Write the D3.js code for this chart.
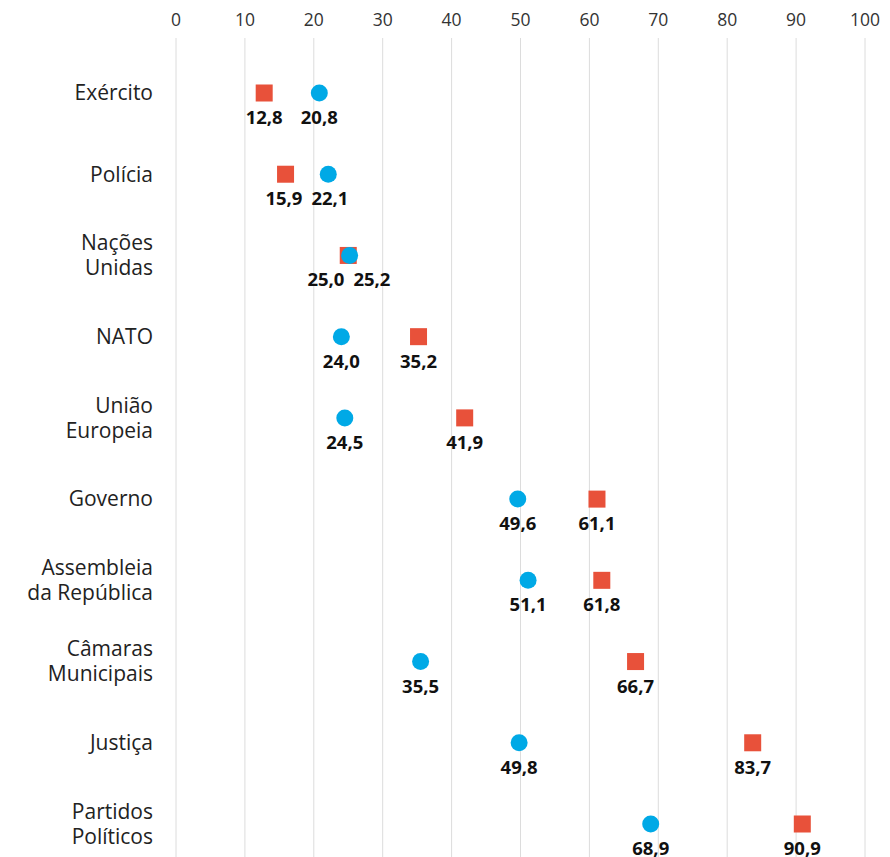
<!DOCTYPE html>
<html lang="pt">
<head>
<meta charset="UTF-8">
<title>Confiança nas instituições</title>
<script src="https://cdn.jsdelivr.net/npm/d3@7"></script>
<style>
    body { margin: 0; background: #fff; }
    svg { font-family: "Open Sans", sans-serif; display: block; }
    .grid line { stroke: #dcdcdc; stroke-width: 1px; }
    .tick-label { font-size: 17.5px; fill: #333; }
    .cat { font-size: 21px; fill: #222; }
    .val { font-size: 18.5px; font-weight: 700; fill: #111; }
</style>
</head>
<body>
<div id="chart"></div>
<script>
    // categories (each entry: label lines)
    const categories = ["Exército", "Polícia", "Nações Unidas", "NATO", "União Europeia",
        "Governo", "Assembleia da República", "Câmaras Municipais", "Justiça", "Partidos Políticos"];
    const categoryLines = [["Exército"], ["Polícia"], ["Nações", "Unidas"], ["NATO"], ["União", "Europeia"],
        ["Governo"], ["Assembleia", "da República"], ["Câmaras", "Municipais"], ["Justiça"], ["Partidos", "Políticos"]];
    // red squares
    const squareValues = [12.8, 15.9, 25.0, 35.2, 41.9, 61.1, 61.8, 66.7, 83.7, 90.9];
    // blue circles
    const circleValues = [20.8, 22.1, 25.2, 24.0, 24.5, 49.6, 51.1, 35.5, 49.8, 68.9];
    const xTicks = [0, 10, 20, 30, 40, 50, 60, 70, 80, 90, 100];

    const W = 890, H = 857;
    const svg = d3.select("#chart").append("svg").attr("width", W).attr("height", H);

    const x = d3.scaleLinear().domain([0, 100]).range([176, 865]);
    const y = d3.scalePoint().domain(categories).range([93, 824]);

    const fmt = v => d3.format(".1f")(v).replace(".", ",");

    // gridlines + top tick labels
    const grid = svg.append("g").classed("grid", true);
    grid.selectAll("line").data(xTicks).join("line")
        .attr("x1", d => x(d)).attr("x2", d => x(d))
        .attr("y1", 38).attr("y2", H);
    svg.selectAll(".tick-label").data(xTicks).join("text")
        .classed("tick-label", true)
        .attr("x", d => x(d)).attr("y", 26)
        .attr("text-anchor", "middle")
        .text(d => d);

    // category labels
    const cats = svg.selectAll(".cat").data(categories).join("text")
        .classed("cat", true)
        .attr("text-anchor", "end")
        .attr("transform", d => `translate(153,${y(d)})`);
    cats.each(function(d, i) {
        const lines = categoryLines[i];
        const off = -(lines.length - 1) * 12.5;
        d3.select(this).selectAll("tspan").data(lines).join("tspan")
            .attr("x", 0)
            .attr("y", (l, j) => off + j * 25)
            .attr("dy", "0.35em")
            .text(l => l);
    });

    const rows = categories.map((c, i) => ({ c, sq: squareValues[i], ci: circleValues[i] }));

    // squares
    const s = 17;
    svg.selectAll(".sq").data(rows).join("rect")
        .classed("sq", true)
        .attr("x", d => x(d.sq) - s / 2)
        .attr("y", d => y(d.c) - s / 2)
        .attr("width", s).attr("height", s)
        .attr("fill", "#e8513a");

    // circles
    svg.selectAll(".ci").data(rows).join("circle")
        .classed("ci", true)
        .attr("cx", d => x(d.ci))
        .attr("cy", d => y(d.c))
        .attr("r", 8.5)
        .attr("fill", "#00a9e6");

    // value labels, pushed apart when they would overlap
    const minGap = 46;
    rows.forEach(d => {
        let xs = x(d.sq), xc = x(d.ci);
        if (Math.abs(xs - xc) < minGap) {
            const mid = (xs + xc) / 2;
            const sign = xs <= xc ? -1 : 1;
            xs = mid + sign * minGap / 2;
            xc = mid - sign * minGap / 2;
        }
        svg.append("text").classed("val", true)
            .attr("x", xs).attr("y", y(d.c) + 31)
            .attr("text-anchor", "middle").text(fmt(d.sq));
        svg.append("text").classed("val", true)
            .attr("x", xc).attr("y", y(d.c) + 31)
            .attr("text-anchor", "middle").text(fmt(d.ci));
    });
</script>
</body>
</html>
